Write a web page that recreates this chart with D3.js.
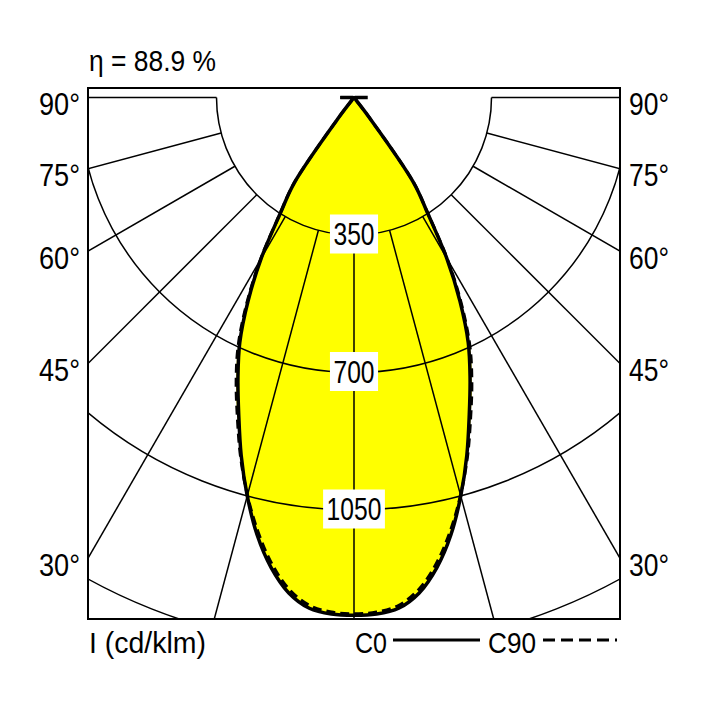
<!DOCTYPE html>
<html>
<head>
<meta charset="utf-8">
<script src="https://cdn.jsdelivr.net/npm/d3@7"></script>
<style>
  body { margin: 0; background: #fff; }
  text { font-family: "Liberation Sans", Arial, sans-serif; fill: #000; }
</style>
</head>
<body>
<svg width="708" height="708"></svg>
<script>
// gamma angles (deg from nadir) and intensities in cd/klm
var angles = [0, 2.5, 5, 7.5, 10, 12.5, 15, 17.5, 20, 22.5, 25, 27.5, 30, 32.5, 35, 37.5, 40, 45, 50, 55, 60, 65, 70, 75, 80, 85, 90];
var c0     = [1318, 1316, 1305, 1272, 1215, 1140, 1050, 955, 858, 772, 688, 584, 472, 348, 265, 60, 5, 3, 2, 2, 2, 2, 2, 2, 2, 3, 35];
var c90    = [1314, 1311, 1298, 1263, 1205, 1131, 1048, 960, 868, 784, 698, 592, 476, 350, 265, 60, 5, 3, 2, 2, 2, 2, 2, 2, 2, 3, 35];

var rings = [350, 700, 1050, 1400];
var ringLabels = [350, 700, 1050];
var gridAngles = [0, 15, 30, 45, 60, 75, 90];
var sideAngles = [90, 75, 60, 45, 30];
var title = 'η = 88.9 %';
var unitLabel = 'I (cd/klm)';
var legend = ['C0', 'C90'];

var svg = d3.select('svg');
var x0 = 88, x1 = 620, y0 = 88, y1 = 619;
var cx = (x0 + x1) / 2, cy = 97.5;
var half = (x1 - x0) / 2;

var r = d3.scaleLinear().domain([0, 1400]).range([0, 550]);
var rad = d => d * Math.PI / 180;

// narrow lettering: squeeze the text to the width seen in the picture
function label(sel, x, y, s, size, width, anchor) {
    return sel.append('text').attr('x', x).attr('y', y)
        .attr('font-size', size).attr('text-anchor', anchor || 'start')
        .attr('textLength', width).attr('lengthAdjust', 'spacingAndGlyphs')
        .text(s);
}

svg.append('defs').append('clipPath').attr('id', 'frame')
    .append('rect').attr('x', x0).attr('y', y0).attr('width', x1 - x0).attr('height', y1 - y0);

var plot = svg.append('g').attr('clip-path', 'url(#frame)');
var centre = plot.append('g').attr('transform', `translate(${cx},${cy})`);

// both halves of a curve as one outline
function outline(vals) {
    var pts = [];
    for (var i = angles.length - 1; i >= 0; i--) pts.push([Math.PI + rad(angles[i]), r(vals[i])]);
    for (var j = 1; j < angles.length; j++) pts.push([Math.PI - rad(angles[j]), r(vals[j])]);
    return pts;
}
var line = d3.lineRadial().angle(d => d[0]).radius(d => d[1])
    .curve(d3.curveCatmullRom.alpha(0.5));

// yellow fill
[c0, c90].forEach(v => {
    centre.append('path').attr('d', line(outline(v)) + 'Z').attr('fill', '#ffff00');
});

// rings (lower half)
rings.forEach(v => {
    var p = d3.path();
    p.arc(0, 0, r(v), 0, Math.PI);
    centre.append('path').attr('d', p.toString())
        .attr('fill', 'none').attr('stroke', '#000').attr('stroke-width', 1.5);
});

// radial lines from first ring outwards
var spokes = [];
gridAngles.forEach(a => { spokes.push(a); if (a > 0) spokes.push(-a); });
centre.selectAll('line.spoke').data(spokes).enter().append('line')
    .attr('class', 'spoke')
    .attr('x1', a => r(rings[0]) * Math.sin(rad(a)))
    .attr('y1', a => r(rings[0]) * Math.cos(rad(a)))
    .attr('x2', a => 900 * Math.sin(rad(a)))
    .attr('y2', a => 900 * Math.cos(rad(a)))
    .attr('stroke', '#000').attr('stroke-width', 1.5);

// curves
centre.append('path').attr('d', line(outline(c90)))
    .attr('fill', 'none').attr('stroke', '#000').attr('stroke-width', 3).attr('stroke-dasharray', '9,5');
centre.append('path').attr('d', line(outline(c0)))
    .attr('fill', 'none').attr('stroke', '#000').attr('stroke-width', 3.5).attr('stroke-linejoin', 'round');

// ring value labels in white boxes
ringLabels.forEach(v => {
    var yy = cy + r(v) - 1;
    var w = String(v).length * 13.7;
    svg.append('rect').attr('x', cx - (w + 7) / 2).attr('y', yy - 19.5)
        .attr('width', w + 7).attr('height', 39).attr('fill', '#fff');
    label(svg, cx, yy + 11, v, 31, w, 'middle');
});

// frame
svg.append('rect').attr('x', x0).attr('y', y0).attr('width', x1 - x0).attr('height', y1 - y0)
    .attr('fill', 'none').attr('stroke', '#000').attr('stroke-width', 2);

// side angle labels
sideAngles.forEach(a => {
    var yy = a === 90 ? cy : cy + half / Math.tan(rad(a));
    label(svg, x0 - 8, yy + 17.5, a + '°', 32, 41, 'end');
    label(svg, x1 + 9, yy + 17.5, a + '°', 32, 40);
});

label(svg, 89, 71, title, 30, 127);
label(svg, 89, 653, unitLabel, 30, 117);

// legend
label(svg, 355, 653, legend[0], 30, 32);
svg.append('line').attr('x1', 393).attr('x2', 480).attr('y1', 640).attr('y2', 640)
    .attr('stroke', '#000').attr('stroke-width', 3);
label(svg, 488, 653, legend[1], 30, 48);
svg.append('line').attr('x1', 543).attr('x2', 617).attr('y1', 640).attr('y2', 640)
    .attr('stroke', '#000').attr('stroke-width', 3).attr('stroke-dasharray', '12,6');
</script>
</body>
</html>
